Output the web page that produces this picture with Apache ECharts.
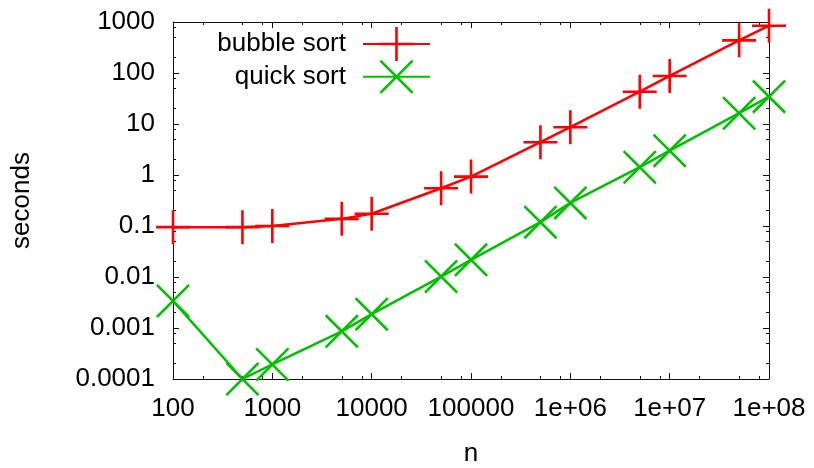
<!DOCTYPE html>
<html><head><meta charset="utf-8">
<script src="https://cdn.jsdelivr.net/npm/echarts@6/dist/echarts.min.js"></script>
<style>html,body{margin:0;padding:0;background:#fff}#c{width:814px;height:468px}</style>
</head><body><div id="c"></div>
<script>
// ---- data ----
const nValues = [100, 500, 1000, 5000, 10000, 50000, 100000, 500000, 1e6, 5e6, 1e7, 5e7, 1e8];
const bubbleSeconds = [0.095, 0.095, 0.1, 0.138, 0.174, 0.55, 0.93, 4.4, 8.65, 43, 87.5, 437, 847];
const quickSeconds = [0.0034, 0.0001, 0.000193, 0.00086, 0.00187, 0.0102, 0.0217, 0.119, 0.284, 1.42, 3.0, 16.3, 34.4];
const seriesNames = ['bubble sort', 'quick sort'];
const xMajorTicks = [100, 1000, 10000, 100000, 1e6, 1e7, 1e8];
const xTickLabels = ['100', '1000', '10000', '100000', '1e+06', '1e+07', '1e+08'];
const xMinorTicks = [200, 500, 800, 2000, 5000, 8000, 20000, 50000, 80000, 2e5, 5e5, 8e5, 2e6, 5e6, 8e6, 2e7, 5e7, 8e7];
const yMajorTicks = [0.0001, 0.001, 0.01, 0.1, 1, 10, 100, 1000];
const yTickLabels = ['0.0001', '0.001', '0.01', '0.1', '1', '10', '100', '1000'];
const yMinorTicks = [2e-4, 5e-4, 8e-4, 2e-3, 5e-3, 8e-3, 0.02, 0.05, 0.08, 0.2, 0.5, 0.8, 2, 5, 8, 20, 50, 80, 200, 500, 800];

// ---- styling ----
const FONT = '"Liberation Sans", Arial, sans-serif';
const BLACK = '#111';
const RED = '#ff0000';
const GREEN = '#00c000';
const PLUS = 'path://M15.7,0H18.3V15.7H34V18.3H18.3V34H15.7V18.3H0V15.7H15.7Z';
const CROSS = 'path://M0,1.8L1.8,0L34,32.2L32.2,34ZM32.2,0L34,1.8L1.8,34L0,32.2Z';

function lookupLabel(ticks, labels, v) {
  const k = Math.round(Math.log10(v));
  for (let i = 0; i < ticks.length; i++) {
    if (Math.round(Math.log10(ticks[i])) === k) return labels[i];
  }
  return '';
}

function makeAxis(kind, position, major, showLabels, extra) {
  const isX = kind === 'x';
  const ax = {
    type: 'log', logBase: 10,
    min: isX ? 100 : 0.0001,
    max: isX ? 1e8 : 1000,
    position: position,
    axisLine: { show: major, onZero: false, lineStyle: { color: BLACK, width: 1 } },
    axisTick: {
      show: true, inside: true, length: major ? 6 : 3,
      customValues: major ? (isX ? xMajorTicks : yMajorTicks) : (isX ? xMinorTicks : yMinorTicks),
      lineStyle: { color: BLACK, width: 1 }
    },
    axisLabel: { show: false },
    splitLine: { show: false },
    minorTick: { show: false },
    minorSplitLine: { show: false },
    silent: true
  };
  if (showLabels) {
    ax.axisLabel = {
      show: true,
      customValues: isX ? xMajorTicks : yMajorTicks,
      formatter: function (v) { return isX ? lookupLabel(xMajorTicks, xTickLabels, v) : lookupLabel(yMajorTicks, yTickLabels, v); },
      fontSize: 26, fontFamily: FONT, color: '#000',
      margin: isX ? 17 : 18
    };
  }
  return Object.assign(ax, extra || {});
}

const chart = echarts.init(document.getElementById('c'), null, { renderer: 'canvas' });

const legendBase = {
  orient: 'vertical', right: 378, align: 'right',
  itemWidth: 67, itemHeight: 42.5, itemGap: 0,
  selectedMode: false,
  textStyle: { fontSize: 26, fontFamily: FONT, color: '#000', padding: [0, 12, 0, 0] }
};

chart.setOption({
  animation: false,
  backgroundColor: '#fff',
  grid: { left: 173, right: 45, top: 22, bottom: 89, containLabel: false, outerBoundsMode: 'none' },
  legend: [
    Object.assign({}, legendBase, { data: [seriesNames[0]], top: 22 }),
    Object.assign({}, legendBase, { data: [seriesNames[1]], top: 54.75 })
  ],
  xAxis: [
    makeAxis('x', 'bottom', true, true, {
      name: 'n', nameLocation: 'middle', nameGap: 62,
      nameTextStyle: { fontSize: 26, fontFamily: FONT, color: '#000' }
    }),
    makeAxis('x', 'top', true, false),
    makeAxis('x', 'bottom', false, false),
    makeAxis('x', 'top', false, false)
  ],
  yAxis: [
    makeAxis('y', 'left', true, true, {
      name: 'seconds', nameLocation: 'middle', nameGap: 138, nameRotate: 90,
      nameTextStyle: { fontSize: 26, fontFamily: FONT, color: '#000' }
    }),
    makeAxis('y', 'right', true, false),
    makeAxis('y', 'left', false, false),
    makeAxis('y', 'right', false, false)
  ],
  series: [
    {
      type: 'line', name: seriesNames[0],
      xAxisIndex: 0, yAxisIndex: 0,
      data: nValues.map((n, i) => [n, bubbleSeconds[i]]),
      symbol: PLUS, symbolSize: 34, showAllSymbol: true,
      lineStyle: { color: RED, width: 2.5 },
      itemStyle: { color: RED },
      clip: false, silent: true
    },
    {
      type: 'line', name: seriesNames[1],
      xAxisIndex: 0, yAxisIndex: 0,
      data: nValues.map((n, i) => [n, quickSeconds[i]]),
      symbol: CROSS, symbolSize: 34, showAllSymbol: true,
      lineStyle: { color: GREEN, width: 2.5 },
      itemStyle: { color: GREEN },
      clip: false, silent: true
    }
  ]
});
</script></body></html>
